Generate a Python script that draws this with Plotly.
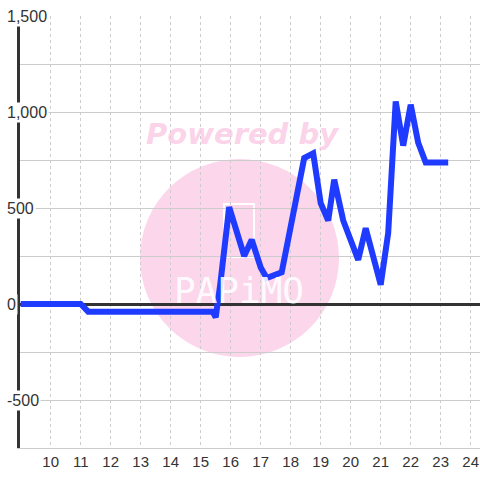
import plotly.graph_objects as go

# Data
x_vals = [9, 11, 11.25, 15.4, 15.5, 15.65, 15.95, 16.45, 16.7, 17.0, 17.2, 17.7,
          18.45, 18.75, 19.0, 19.25, 19.45, 19.75, 20.25, 20.5, 21.0, 21.25,
          21.5, 21.75, 22.0, 22.25, 22.5, 23.25]
y_vals = [0, 0, -40, -40, -70, 100, 505, 250, 335, 190, 135, 165,
          760, 785, 525, 435, 648, 435, 230, 395, 100, 370,
          1055, 825, 1038, 840, 737, 737]
x_ticks = list(range(10, 25))
y_label_vals = [1500, 1000, 500, 0, -500]
y_grid_vals = [-750, -500, -250, 0, 250, 500, 750, 1000, 1250, 1500]

W, H = 480, 480
L, R, T, B = 20, 0, 16, 32
pw = W - L - R
ph = H - T - B

def px_x(p):
    return (p - L) / pw

def px_y(p):
    return 1 - (p - T) / ph

fig = go.Figure()

fig.add_trace(go.Scatter(
    x=x_vals, y=y_vals, mode="lines",
    line=dict(color="#1f3bff", width=6),
    hoverinfo="skip", showlegend=False,
))

# watermark (below grid)
pink = "#fcd6eb"
fig.add_shape(type="circle", xref="paper", yref="paper",
              x0=px_x(140), x1=px_x(339), y0=px_y(357), y1=px_y(159),
              fillcolor=pink, line=dict(width=0), layer="below")
fig.add_shape(type="rect", xref="paper", yref="paper",
              x0=px_x(224), x1=px_x(254), y0=px_y(257), y1=px_y(204),
              line=dict(color="white", width=2), fillcolor="rgba(0,0,0,0)", layer="below")
fig.add_annotation(text="<i><b>Powered by</b></i>", xref="paper", yref="paper",
                   x=px_x(242), y=px_y(134), xanchor="center", yanchor="middle",
                   showarrow=False,
                   font=dict(family="DejaVu Sans", size=29, color="rgba(250,200,228,0.8)"))
fig.add_annotation(text="PAPiMO", xref="paper", yref="paper",
                   x=px_x(239), y=px_y(290), xanchor="center", yanchor="middle",
                   showarrow=False,
                   font=dict(family="DejaVu Sans Mono", size=36, color="rgba(255,255,255,0.9)"))

# y tick labels with white background
for v in y_label_vals:
    fig.add_annotation(text=f"{v:,}", xref="paper", yref="y",
                       x=px_x(5), y=v, xanchor="left", yanchor="middle",
                       showarrow=False, bgcolor="white", borderpad=1,
                       font=dict(family="Liberation Sans", size=16, color="#333"))

fig.update_layout(
    width=W, height=H,
    margin=dict(l=L, r=R, t=T, b=B, autoexpand=False),
    paper_bgcolor="white", plot_bgcolor="white",
    showlegend=False,
    xaxis=dict(
        range=[8.977, 24.31], automargin=False,
        tickvals=x_ticks, ticktext=[str(t) for t in x_ticks],
        showgrid=True, gridcolor="#cccccc", griddash="dot", gridwidth=1,
        zeroline=False, showline=True, linecolor="#cccccc", linewidth=1,
        ticks="", tickfont=dict(family="Liberation Sans", size=15, color="#333"),
    ),
    yaxis=dict(
        range=[-750, 1500], automargin=False,
        tickvals=y_grid_vals, showticklabels=False,
        showgrid=True, gridcolor="#cccccc", gridwidth=1,
        zeroline=True, zerolinecolor="#333333", zerolinewidth=3,
        showline=True, linecolor="#333333", linewidth=3, ticks="",
    ),
)

fig.write_html("out.html", config={"displayModeBar": False},
               post_script="document.body.style.margin='0';document.body.style.overflow='hidden';")
